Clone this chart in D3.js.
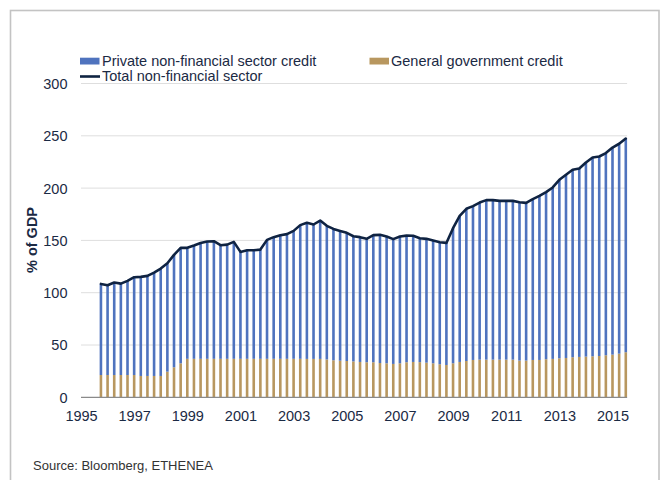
<!DOCTYPE html>
<html>
<head>
<meta charset="utf-8">
<script src="https://cdn.jsdelivr.net/npm/d3@7"></script>
<style>
  html, body { margin: 0; padding: 0; background: #ffffff; }
  svg { display: block; }
  text { font-family: "Liberation Sans", Arial, sans-serif; }
</style>
</head>
<body>
<svg id="chart" width="665" height="480"></svg>
<script>
// Quarterly observations, % of GDP
const quarters = [
  "1995Q4",
  "1996Q1","1996Q2","1996Q3","1996Q4",
  "1997Q1","1997Q2","1997Q3","1997Q4",
  "1998Q1","1998Q2","1998Q3","1998Q4",
  "1999Q1","1999Q2","1999Q3","1999Q4",
  "2000Q1","2000Q2","2000Q3","2000Q4",
  "2001Q1","2001Q2","2001Q3","2001Q4",
  "2002Q1","2002Q2","2002Q3","2002Q4",
  "2003Q1","2003Q2","2003Q3","2003Q4",
  "2004Q1","2004Q2","2004Q3","2004Q4",
  "2005Q1","2005Q2","2005Q3","2005Q4",
  "2006Q1","2006Q2","2006Q3","2006Q4",
  "2007Q1","2007Q2","2007Q3","2007Q4",
  "2008Q1","2008Q2","2008Q3","2008Q4",
  "2009Q1","2009Q2","2009Q3","2009Q4",
  "2010Q1","2010Q2","2010Q3","2010Q4",
  "2011Q1","2011Q2","2011Q3","2011Q4",
  "2012Q1","2012Q2","2012Q3","2012Q4",
  "2013Q1","2013Q2","2013Q3","2013Q4",
  "2014Q1","2014Q2","2014Q3","2014Q4",
  "2015Q1","2015Q2","2015Q3"
];

const privateCredit = [
  87.1, 85.9, 88.4, 87.4, 90.0, 93.5, 94.7, 95.7, 98.8, 102.7,
  103.7, 107.5, 110.4, 106.1, 108.3, 110.7, 112.1, 112.4, 108.6, 109.2,
  111.8, 102.2, 103.8, 103.8, 104.4, 113.7, 116.3, 118.2, 119.2, 122.3,
  127.8, 130.1, 128.5, 132.3, 127.7, 125.6, 124.1, 122.5, 119.7, 119.3,
  118.0, 121.5, 122.5, 121.2, 119.3, 121.2, 121.1, 120.7, 118.5, 118.4,
  117.4, 116.7, 116.7, 129.2, 139.7, 145.5, 147.1, 150.2, 152.5, 152.5,
  151.8, 151.8, 151.8, 151.3, 150.8, 153.8, 156.9, 159.8, 163.9, 170.6,
  175.1, 179.2, 180.1, 185.6, 190.1, 190.7, 193.3, 198.0, 200.7, 204.3
];

const governmentCredit = [
  21.3, 21.3, 21.3, 21.3, 21.3, 21.3, 20.4, 20.4, 20.4, 20.4,
  24.5, 28.7, 32.5, 36.8, 36.8, 36.8, 36.8, 36.8, 36.8, 36.8,
  36.8, 36.8, 36.8, 36.8, 36.8, 36.8, 36.8, 36.8, 36.8, 36.8,
  36.8, 36.7, 36.7, 36.7, 36.2, 35.4, 35.0, 34.7, 34.3, 33.8,
  33.5, 33.5, 32.8, 32.5, 31.9, 32.5, 33.5, 33.8, 33.6, 33.1,
  32.5, 31.6, 30.9, 32.5, 33.8, 34.7, 35.7, 36.0, 36.0, 36.0,
  36.0, 36.0, 36.0, 35.1, 35.1, 35.7, 35.7, 36.4, 36.7, 37.3,
  37.6, 38.3, 38.6, 38.9, 39.2, 39.5, 40.2, 40.8, 41.7, 43.1
];

const yearTicks = [1995, 1997, 1999, 2001, 2003, 2005, 2007, 2009, 2011, 2013, 2015];
const valueTicks = [0, 50, 100, 150, 200, 250, 300];

const seriesNames = {
  private: "Private non-financial sector credit",
  government: "General government credit",
  total: "Total non-financial sector"
};

const colors = {
  private: "#4f73be",
  government: "#b8975f",
  total: "#0f2342",
  text: "#1b2a44",
  grid: "#dedede",
  axis: "#8a8a8a",
  frame: "#c3c3c3"
};

// Quarter label -> fractional year (start of quarter)
const toYear = q => +q.slice(0, 4) + (+q.slice(5) - 1) * 0.25;

const rows = quarters.map((q, i) => ({
  t: toYear(q),
  gov: governmentCredit[i],
  priv: privateCredit[i],
  total: governmentCredit[i] + privateCredit[i]
}));

const svg = d3.select("#chart");

// Outer frame
svg.append("rect")
  .attr("x", 10.5).attr("y", 10.5)
  .attr("width", 648.5).attr("height", 490)
  .attr("fill", "none")
  .attr("stroke", colors.frame)
  .attr("stroke-width", 1.6);

const x = d3.scaleLinear().domain([1995, 2015]).range([81, 612.5]);
const y = d3.scaleLinear().domain([0, 300]).range([397.3, 83.5]);
const xEnd = x(2015.55);

// Gridlines
svg.append("g")
  .selectAll("line")
  .data(valueTicks.filter(v => v > 0))
  .join("line")
  .attr("x1", x(1995)).attr("x2", xEnd)
  .attr("y1", d => y(d)).attr("y2", d => y(d))
  .attr("stroke", colors.grid)
  .attr("stroke-width", 1);

// Y axis labels
const yAxis = d3.axisLeft(y).tickValues(valueTicks).tickSize(0).tickPadding(0);
const gy = svg.append("g").attr("transform", "translate(67.5,0)").call(yAxis);
gy.select(".domain").remove();
gy.selectAll("text")
  .attr("fill", colors.text)
  .style("font-size", "14.5px")
  .attr("dy", "0.34em");

// X axis labels
const xAxis = d3.axisBottom(x).tickValues(yearTicks).tickFormat(d3.format("d")).tickSize(0).tickPadding(0);
const gx = svg.append("g").attr("transform", "translate(0,410.5)").call(xAxis);
gx.select(".domain").remove();
gx.selectAll("text")
  .attr("fill", colors.text)
  .style("font-size", "14.5px");

// Stacked bars
const barW = 2.6;
const bars = svg.append("g");
bars.selectAll("rect.gov")
  .data(rows)
  .join("rect")
  .attr("class", "gov")
  .attr("x", d => x(d.t) - barW / 2)
  .attr("width", barW)
  .attr("y", d => y(d.gov))
  .attr("height", d => y(0) - y(d.gov))
  .attr("fill", colors.government);
bars.selectAll("rect.priv")
  .data(rows)
  .join("rect")
  .attr("class", "priv")
  .attr("x", d => x(d.t) - barW / 2)
  .attr("width", barW)
  .attr("y", d => y(d.total))
  .attr("height", d => y(d.gov) - y(d.total))
  .attr("fill", colors.private);

// Baseline
svg.append("line")
  .attr("x1", x(1995)).attr("x2", xEnd)
  .attr("y1", y(0)).attr("y2", y(0))
  .attr("stroke", colors.axis)
  .attr("stroke-width", 1.2);

// Total line
svg.append("path")
  .datum(rows)
  .attr("fill", "none")
  .attr("stroke", colors.total)
  .attr("stroke-width", 2.6)
  .attr("stroke-linejoin", "round")
  .attr("stroke-linecap", "round")
  .attr("d", d3.line().x(d => x(d.t)).y(d => y(d.total)));

// Y axis title
svg.append("text")
  .attr("transform", "translate(37,240) rotate(-90)")
  .attr("text-anchor", "middle")
  .attr("fill", colors.text)
  .style("font-size", "14.5px")
  .style("font-weight", "bold")
  .text("% of GDP");

// Legend
const legend = svg.append("g");
legend.append("rect").attr("x", 80).attr("y", 57.7).attr("width", 19.5).attr("height", 6.8).attr("fill", colors.private);
legend.append("text").attr("x", 102).attr("y", 65.7).attr("fill", colors.text).style("font-size", "14.5px").text(seriesNames.private);
legend.append("rect").attr("x", 369.5).attr("y", 57.7).attr("width", 19.5).attr("height", 6.8).attr("fill", colors.government);
legend.append("text").attr("x", 391).attr("y", 65.7).attr("fill", colors.text).style("font-size", "14.5px").text(seriesNames.government);
legend.append("line").attr("x1", 80).attr("x2", 100).attr("y1", 76.5).attr("y2", 76.5).attr("stroke", colors.total).attr("stroke-width", 2.6);
legend.append("text").attr("x", 102).attr("y", 81).attr("fill", colors.text).style("font-size", "14.5px").text(seriesNames.total);

// Source note
svg.append("text")
  .attr("x", 33).attr("y", 470)
  .attr("fill", "#333333")
  .style("font-size", "13px")
  .text("Source: Bloomberg, ETHENEA");
</script>
</body>
</html>
